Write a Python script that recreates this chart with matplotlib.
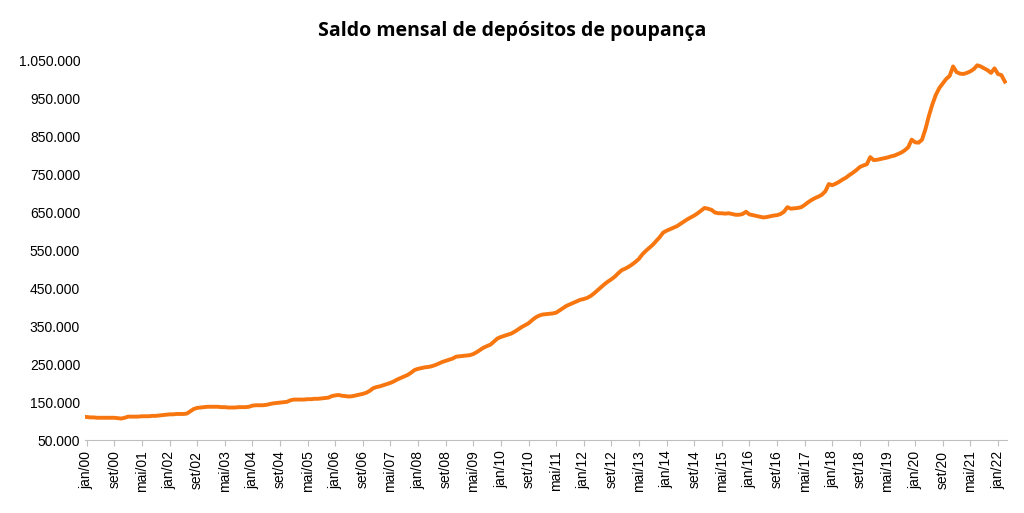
import matplotlib
matplotlib.use("Agg")
import matplotlib.pyplot as plt
import numpy as np

months_pt = ["jan","fev","mar","abr","mai","jun","jul","ago","set","out","nov","dez"]
start_year = 2000
# monthly balance (R$ million), jan/2000 .. mar/2022
values = [
 111,110,110,109,109,109,109,109,109,108,107,109,  # 2000
 112,112,112,112,113,113,113,114,114,115,116,117,  # 2001
 118,118,119,119,119,120,126,132,135,136,137,138,  # 2002
 138,138,138,137,137,136,136,136,137,137,137,138,  # 2003
 141,142,142,142,143,145,147,148,149,150,151,155,  # 2004
 157,157,157,157,158,158,159,159,160,161,162,166,  # 2005
 168,169,167,166,165,166,168,170,172,175,180,187,  # 2006
 190,192,195,198,201,205,210,214,218,222,228,235,  # 2007
 238,240,242,243,245,248,252,256,259,262,265,270,  # 2008
 271,272,273,274,277,282,288,294,298,302,310,318,  # 2009
 322,325,328,331,336,342,348,353,358,366,373,378,  # 2010
 381,382,383,384,386,392,398,404,408,412,416,420,  # 2011
 422,425,430,437,445,453,461,468,474,481,490,498,  # 2012
 502,507,513,520,528,540,549,557,565,575,585,597,  # 2013
 602,606,610,614,620,626,632,637,642,648,655,662,  # 2014
 660,657,650,648,648,647,648,646,644,644,646,652,  # 2015
 645,643,641,639,637,638,640,642,643,646,652,664,  # 2016
 660,661,662,664,670,677,683,688,692,697,706,725,  # 2017
 722,726,731,737,742,749,755,762,770,774,777,796,  # 2018
 788,789,791,793,795,798,800,804,808,814,822,842,  # 2019
 835,834,842,870,905,935,960,978,990,1002,1010,1035,  # 2020
 1020,1016,1015,1018,1022,1028,1038,1035,1030,1025,1018,1030,  # 2021
 1015,1012,995,  # 2022
]

n = len(values)
idx = np.arange(n)
labels = [f"{months_pt[i % 12]}/{str((start_year + i // 12) % 100).zfill(2)}" for i in range(n)]
tick_idx = idx[::8]

def fmt(v):
    return f"{int(v):,}".replace(",", ".")

fig, ax = plt.subplots(figsize=(10.24, 5.13), dpi=100)
fig.subplots_adjust(left=0.083, right=0.983, top=0.889, bottom=0.142)
ax.plot(idx, np.array(values) * 1000, color="#F7760F", lw=2.8)
ax.set_xlim(-0.5, n - 0.5)
ax.set_ylim(50000, 1060000)
yt = np.arange(50000, 1050001, 100000)
ax.set_yticks(yt)
ax.set_yticklabels([fmt(v) for v in yt], fontsize=10, fontfamily="Liberation Sans")
ax.set_xticks(tick_idx)
ax.set_xticklabels([labels[i] for i in tick_idx], rotation=90, fontsize=10, fontfamily="Liberation Sans")
for s in ["top", "right", "left"]:
    ax.spines[s].set_visible(False)
ax.spines["bottom"].set_color("#BFBFBF")
ax.tick_params(axis="y", length=0)
ax.tick_params(axis="x", color="#BFBFBF", length=4)
fig.suptitle("Saldo mensal de depósitos de poupança", fontsize=14, fontweight="bold",
             fontfamily="Open Sans", y=0.96)
fig.savefig("out.png", dpi=100)
